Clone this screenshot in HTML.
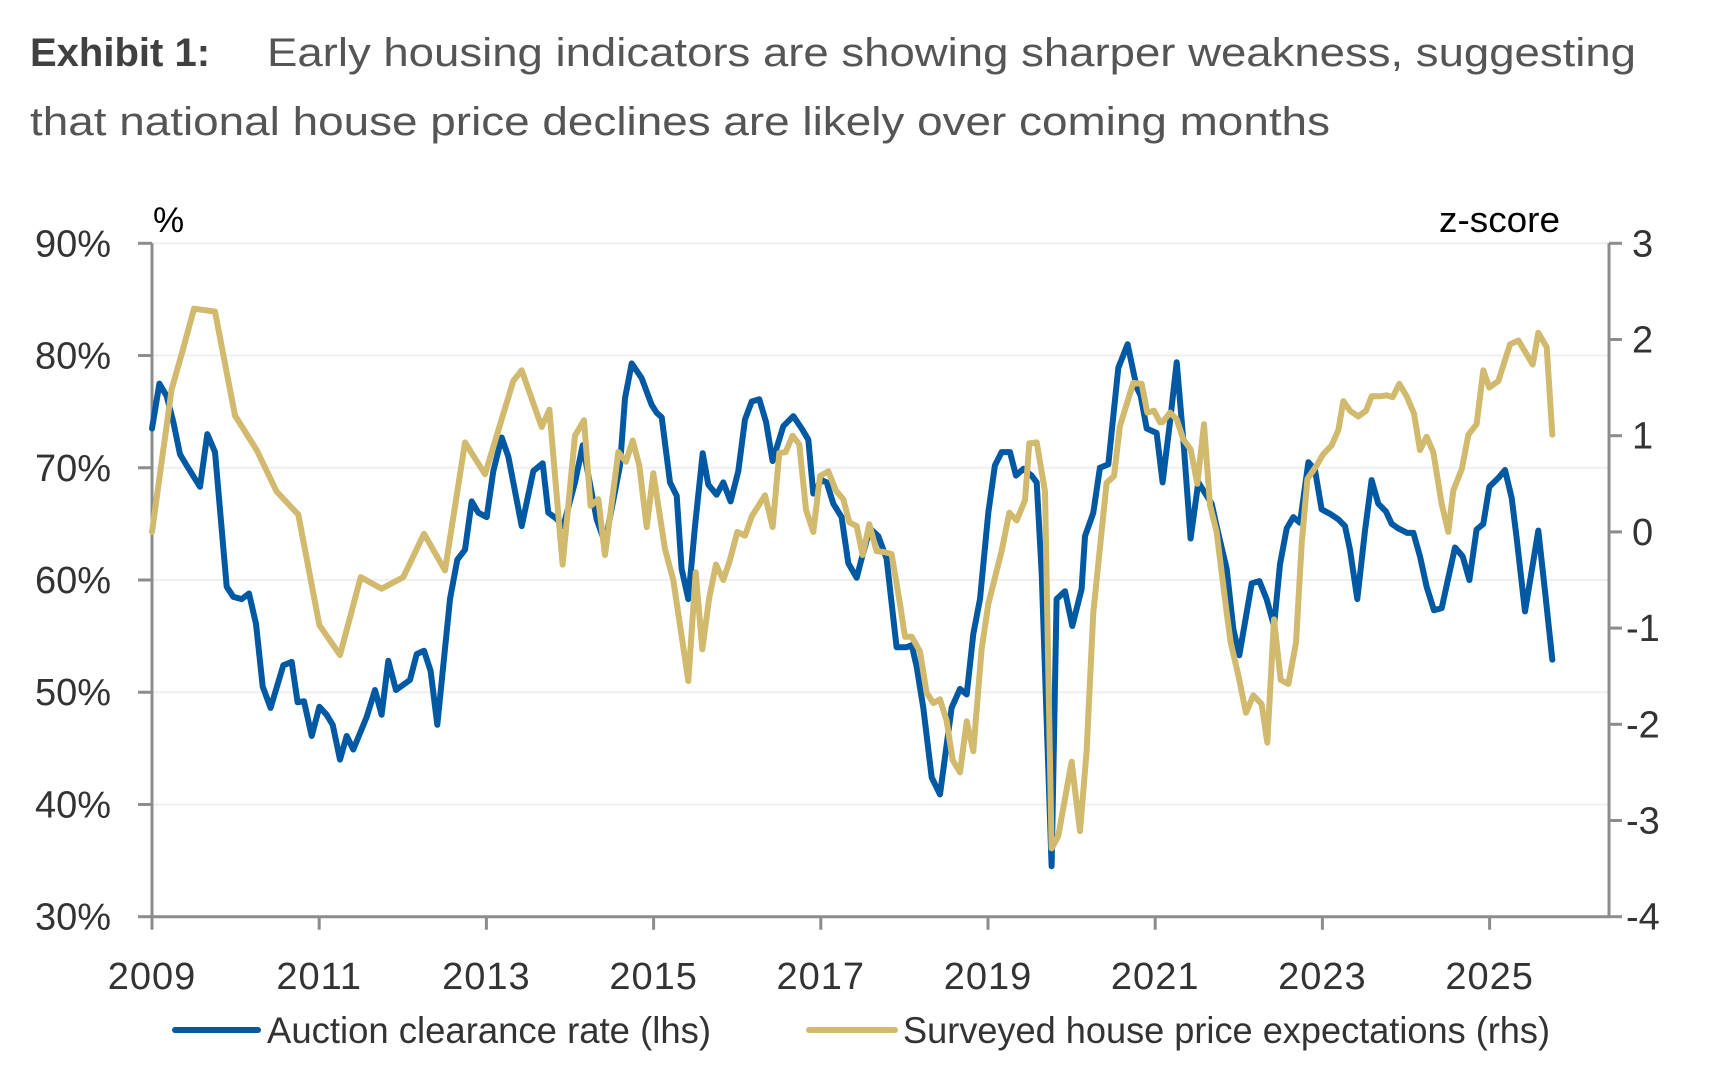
<!DOCTYPE html>
<html><head><meta charset="utf-8">
<style>
html,body{margin:0;padding:0;background:#fff;}
svg{display:block;font-family:"Liberation Sans",sans-serif;}
</style></head>
<body>
<svg id="chart" width="1720" height="1078" viewBox="0 0 1720 1078" xmlns="http://www.w3.org/2000/svg">
  <text x="30" y="66" font-size="40" fill="#555"><tspan font-weight="bold" fill="#404040">Exhibit 1:</tspan><tspan x="267" textLength="1369" lengthAdjust="spacingAndGlyphs">Early housing indicators are showing sharper weakness, suggesting</tspan></text>
  <text x="30" y="135" font-size="40" fill="#555" textLength="1300" lengthAdjust="spacingAndGlyphs">that national house price declines are likely over coming months</text>
  <g id="grid"></g>
  <g id="axes"></g>
  <g id="series"></g>
  <text x="153" y="232" font-size="35" fill="#000">%</text>
  <text x="1560" y="232" font-size="36" fill="#000" text-anchor="end" textLength="121" lengthAdjust="spacingAndGlyphs">z-score</text>
  <g>
    <line x1="175" y1="1030" x2="258" y2="1030" stroke="#0059a2" stroke-width="6" stroke-linecap="round"/>
    <text x="267" y="1043" font-size="37" fill="#333" textLength="444" lengthAdjust="spacingAndGlyphs">Auction clearance rate (lhs)</text>
    <line x1="809" y1="1030" x2="895" y2="1030" stroke="#d1b96d" stroke-width="6" stroke-linecap="round"/>
    <text x="903" y="1043" font-size="37" fill="#333" textLength="647" lengthAdjust="spacingAndGlyphs">Surveyed house price expectations (rhs)</text>
  </g>
</svg>
<script>
const yearTicks = [2009, 2011, 2013, 2015, 2017, 2019, 2021, 2023, 2025];
const leftTicks = [30, 40, 50, 60, 70, 80, 90];
const leftTickLabels = ["30%", "40%", "50%", "60%", "70%", "80%", "90%"];
const rightTicks = [-4, -3, -2, -1, 0, 1, 2, 3];

const auctionDates = [2009.0,2009.088,2009.175,2009.255,2009.335,2009.415,2009.574,2009.662,2009.754,2009.893,2009.973,2010.073,2010.16,2010.244,2010.324,2010.419,2010.571,2010.671,2010.742,2010.818,2010.91,2011.002,2011.089,2011.161,2011.249,2011.329,2011.408,2011.568,2011.667,2011.747,2011.827,2011.919,2012.086,2012.166,2012.254,2012.333,2012.413,2012.565,2012.652,2012.744,2012.824,2012.903,2013.003,2013.083,2013.183,2013.262,2013.422,2013.561,2013.673,2013.741,2013.833,2013.92,2014.06,2014.152,2014.319,2014.419,2014.598,2014.658,2014.738,2014.857,2014.977,2015.037,2015.097,2015.196,2015.276,2015.335,2015.415,2015.495,2015.587,2015.654,2015.754,2015.834,2015.921,2016.013,2016.093,2016.173,2016.264,2016.344,2016.424,2016.551,2016.671,2016.771,2016.85,2016.91,2017.01,2017.07,2017.15,2017.249,2017.329,2017.429,2017.488,2017.588,2017.688,2017.787,2017.907,2018.027,2018.087,2018.146,2018.226,2018.326,2018.426,2018.565,2018.665,2018.745,2018.824,2018.904,2019.004,2019.083,2019.163,2019.263,2019.335,2019.422,2019.522,2019.582,2019.642,2019.761,2019.821,2019.921,2020.008,2020.12,2020.16,2020.259,2020.339,2020.439,2020.559,2020.67,2020.778,2020.826,2020.898,2021.017,2021.089,2021.177,2021.257,2021.337,2021.424,2021.516,2021.676,2021.735,2021.855,2021.935,2022.006,2022.154,2022.246,2022.333,2022.421,2022.493,2022.573,2022.652,2022.732,2022.832,2022.911,2022.991,2023.091,2023.191,2023.27,2023.33,2023.418,2023.51,2023.589,2023.669,2023.761,2023.829,2023.908,2024.016,2024.088,2024.167,2024.247,2024.335,2024.427,2024.506,2024.586,2024.678,2024.758,2024.845,2024.925,2024.997,2025.105,2025.184,2025.264,2025.324,2025.423,2025.503,2025.583,2025.663,2025.75];
const auctionValues = [73.5,77.5,76.4,74.1,71.2,70.2,68.3,73.0,71.4,59.4,58.5,58.3,58.8,56.1,50.5,48.6,52.4,52.7,49.1,49.2,46.1,48.7,48.0,47.1,44.0,46.1,44.9,47.8,50.2,48.0,52.8,50.2,51.1,53.4,53.7,51.9,47.1,58.3,61.8,62.7,67.0,66.0,65.6,69.7,72.7,71.0,64.8,69.7,70.4,66.0,65.5,64.8,68.7,72.0,65.4,63.3,70.2,76.2,79.3,78.0,75.6,74.9,74.5,68.7,67.5,61.0,58.3,64.8,71.3,68.5,67.6,68.7,67.0,69.7,74.3,75.9,76.1,74.1,70.6,73.7,74.6,73.5,72.5,67.7,68.9,68.7,66.8,65.6,61.5,60.2,61.9,64.6,63.9,61.9,54.0,54.0,54.2,52.3,48.6,42.4,40.9,48.6,50.3,49.8,55.2,58.3,66.0,70.2,71.4,71.4,69.3,69.9,69.3,68.7,60.6,34.5,58.3,59.0,55.9,59.2,63.9,66.0,70.0,70.3,78.9,81.0,77.2,76.4,73.5,73.1,68.7,74.1,79.4,72.4,63.7,68.7,66.8,64.8,61.0,55.6,53.3,59.7,59.9,58.3,55.9,61.4,64.6,65.6,65.1,70.5,69.8,66.3,65.9,65.4,64.8,62.7,58.3,64.4,68.9,66.8,66.1,65.0,64.6,64.2,64.2,62.1,59.4,57.3,57.5,60.2,62.9,62.1,60.0,64.5,65.0,68.3,69.1,69.8,67.3,63.7,57.2,60.8,64.4,59.0,52.9];

const expectDates = [2009.0,2009.235,2009.375,2009.502,2009.754,2009.993,2010.252,2010.491,2010.75,2011.002,2011.249,2011.496,2011.747,2012.006,2012.254,2012.505,2012.744,2012.983,2013.203,2013.322,2013.422,2013.661,2013.753,2013.912,2014.06,2014.168,2014.247,2014.339,2014.419,2014.578,2014.67,2014.75,2014.829,2014.917,2014.997,2015.136,2015.236,2015.415,2015.503,2015.583,2015.666,2015.746,2015.834,2015.914,2016.001,2016.093,2016.173,2016.332,2016.424,2016.504,2016.579,2016.663,2016.743,2016.823,2016.91,2016.99,2017.09,2017.181,2017.269,2017.341,2017.429,2017.5,2017.58,2017.668,2017.76,2017.847,2017.947,2018.007,2018.087,2018.186,2018.266,2018.346,2018.426,2018.505,2018.577,2018.665,2018.745,2018.824,2018.924,2019.004,2019.163,2019.255,2019.343,2019.442,2019.494,2019.582,2019.682,2019.761,2019.841,2020.0,2020.1,2020.18,2020.259,2020.419,2020.507,2020.578,2020.738,2020.838,2020.906,2020.985,2021.057,2021.089,2021.177,2021.257,2021.337,2021.424,2021.504,2021.584,2021.656,2021.735,2021.855,2021.903,2021.994,2022.086,2022.174,2022.273,2022.341,2022.421,2022.501,2022.593,2022.684,2022.752,2022.82,2022.931,2023.011,2023.111,2023.191,2023.25,2023.33,2023.43,2023.522,2023.589,2023.689,2023.769,2023.841,2023.92,2024.008,2024.096,2024.167,2024.247,2024.327,2024.427,2024.506,2024.566,2024.666,2024.746,2024.845,2024.925,2024.997,2025.105,2025.244,2025.344,2025.515,2025.583,2025.683,2025.75];
const expectValues = [0.0,1.48,1.91,2.32,2.29,1.21,0.85,0.42,0.18,-0.97,-1.28,-0.47,-0.59,-0.47,-0.02,-0.40,0.93,0.60,1.23,1.57,1.68,1.09,1.27,-0.34,1.0,1.16,0.27,0.34,-0.24,0.83,0.73,0.95,0.69,0.05,0.61,-0.18,-0.50,-1.55,-0.42,-1.22,-0.68,-0.34,-0.50,-0.29,0.0,-0.04,0.16,0.38,0.05,0.82,0.83,1.0,0.91,0.23,0.0,0.58,0.63,0.43,0.34,0.10,0.06,-0.24,0.08,-0.20,-0.21,-0.23,-0.75,-1.09,-1.09,-1.24,-1.67,-1.78,-1.74,-1.96,-2.37,-2.50,-1.97,-2.28,-1.22,-0.75,-0.20,0.20,0.12,0.33,0.92,0.93,0.42,-3.29,-3.16,-2.39,-3.11,-2.28,-0.84,0.51,0.58,1.10,1.55,1.54,1.24,1.26,1.14,1.14,1.24,1.17,0.96,0.86,0.50,1.12,0.28,0.0,-0.84,-1.15,-1.49,-1.88,-1.70,-1.79,-2.19,-0.91,-1.54,-1.58,-1.15,-0.12,0.55,0.69,0.81,0.90,1.06,1.36,1.26,1.20,1.26,1.41,1.41,1.42,1.40,1.54,1.41,1.23,0.85,0.99,0.83,0.29,0.0,0.43,0.65,1.01,1.12,1.68,1.50,1.57,1.95,1.99,1.74,2.07,1.92,1.01];

const X0 = 152, X1 = 1609, Y0 = 243.3, Y1 = 916.7;
const xScale = y => X0 + (y - 2009) * 83.6;
const yLeft = v => Y1 - (v - 30) / 60 * (Y1 - Y0);
const yRight = v => Y1 - (v + 4) / 7 * (Y1 - Y0);
const NS = "http://www.w3.org/2000/svg";
function mk(tag, attrs, parent){ const e=document.createElementNS(NS,tag); for(const k in attrs) e.setAttribute(k,attrs[k]); parent.appendChild(e); return e; }
const grid=document.getElementById('grid'), axes=document.getElementById('axes'), series=document.getElementById('series');

leftTicks.forEach((v,i)=>{
  const y=yLeft(v);
  if(v>30){
    const g=mk('line',{x1:X0,x2:X1,y1:y,y2:y,stroke:'#efefef','stroke-width':2},grid);
    
    
  }
  const t=mk('line',{x1:X0-14,x2:X0,y1:y,y2:y,stroke:'#8c8c8c','stroke-width':3},axes);
  
  
  const l=mk('text',{x:111,y:y+13,'font-size':38,fill:'#333','text-anchor':'end'},axes);
  l.textContent=leftTickLabels[i];
  
  
});
rightTicks.forEach(v=>{
  const y=yRight(v);
  const t=mk('line',{x1:X1,x2:X1+13,y1:y,y2:y,stroke:'#8c8c8c','stroke-width':3},axes);
  
  
  const l=mk('text',{x:v<0?1626:1632,y:y+13,'font-size':38,fill:'#333'},axes);
  l.textContent=String(v);
  
  
});
yearTicks.forEach(yr=>{
  const x=xScale(yr);
  const t=mk('line',{x1:x,x2:x,y1:Y1,y2:Y1+13,stroke:'#8c8c8c','stroke-width':3},axes);
  
  
  const l=mk('text',{x:x,y:989,'font-size':38,fill:'#333','text-anchor':'middle','letter-spacing':'1'},axes);
  l.textContent=String(yr);
  
  
});
const la=mk('line',{x1:X0,x2:X0,y1:Y0,y2:Y1+1,stroke:'#8c8c8c','stroke-width':3},axes);


const ra=mk('line',{x1:X1,x2:X1,y1:Y0,y2:Y1+1,stroke:'#8c8c8c','stroke-width':3},axes);


const xa=mk('line',{x1:X0,x2:X1,y1:Y1,y2:Y1,stroke:'#8c8c8c','stroke-width':3},axes);



function pts(d,v,f){ return d.map((t,i)=>xScale(t).toFixed(1)+','+f(v[i]).toFixed(1)).join(' '); }
const blue=mk('polyline',{points:pts(auctionDates,auctionValues,yLeft),fill:'none',stroke:'#0059a2','stroke-width':6,'stroke-linejoin':'round','stroke-linecap':'round'},series);


const gold=mk('polyline',{points:pts(expectDates,expectValues,yRight),fill:'none',stroke:'#d1b96d','stroke-width':6,'stroke-linejoin':'round','stroke-linecap':'round'},series);


</script>
</body></html>
